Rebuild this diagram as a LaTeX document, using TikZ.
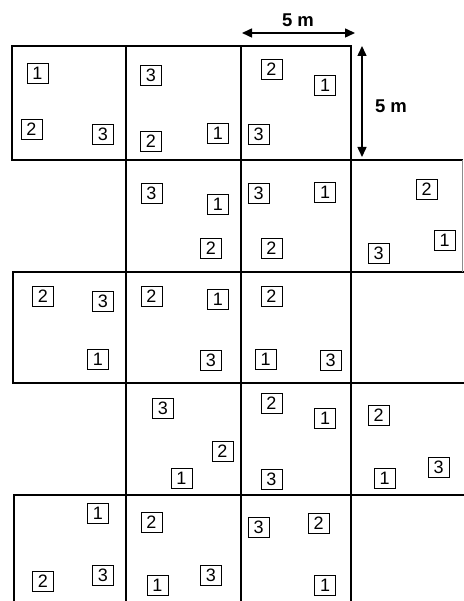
\documentclass[tikz,border=0pt]{standalone}
\usepackage{fontspec}
\setmainfont{Liberation Sans}
\usetikzlibrary{arrows.meta}
\begin{document}
\begin{tikzpicture}[x=1pt,y=-1pt,
  gridline/.style={line width=2pt, line cap=rect},
  thinedge/.style={line width=0.8pt, black!45},
  num/.style={draw, line width=0.9pt, minimum width=21pt, minimum height=20pt, inner sep=0pt, font=\fontsize{18}{18}\selectfont},
  dimarrow/.style={line width=1.5pt, {Triangle[length=10pt,width=9pt]}-{Triangle[length=10pt,width=9pt]}},
  dimlabel/.style={font=\bfseries\fontsize{18.5}{18.5}\selectfont, inner sep=0pt}]
\useasboundingbox (0,0) rectangle (463,601);
% grid
\draw[gridline] (12,46) -- (351,46);
\draw[gridline] (12,160) -- (462,160);
\draw[gridline] (13,272) -- (463,272);
\draw[gridline] (13,383) -- (463,383);
\draw[gridline] (14,495) -- (463,495);
\draw[gridline] (12,46) -- (12,160);
\draw[gridline] (13,272) -- (13,383);
\draw[gridline] (14,495) -- (14,601);
\draw[gridline] (126,46) -- (126,601);
\draw[gridline] (241,46) -- (241,601);
\draw[gridline] (351,46) -- (351,601);
\draw[thinedge] (462,160) -- (462,272);
% dimensions
\coordinate (hA) at (242,33);
\coordinate (hB) at (355,33);
\draw[dimarrow] (hA) -- (hB);
\node[dimlabel] (hL) at (298,20) {5 m};
\coordinate (vA) at (362,46);
\coordinate (vB) at (362,157);
\draw[dimarrow] (vA) -- (vB);
\node[dimlabel] (vL) at (391,106) {5 m};
% row 1
\node[num] (a1) at (37.5,73) {1};
\node[num] (a2) at (31.5,129.5) {2};
\node[num] (a3) at (103,134) {3};
\node[num] (a4) at (151,75) {3};
\node[num] (a5) at (151,141.5) {2};
\node[num] (a6) at (218,133) {1};
\node[num] (a7) at (271.5,69) {2};
\node[num] (a8) at (325,85) {1};
\node[num] (a9) at (258.5,134.5) {3};
% row 2
\node[num] (b1) at (151.5,193) {3};
\node[num] (b2) at (218,204) {1};
\node[num] (b3) at (211,248.5) {2};
\node[num] (b4) at (258.5,193.5) {3};
\node[num] (b5) at (325,192.5) {1};
\node[num] (b6) at (271.5,248.5) {2};
\node[num] (b7) at (426.5,189) {2};
\node[num] (b8) at (444.5,240) {1};
\node[num] (b9) at (378.5,253) {3};
% row 3
\node[num] (c1) at (43,296.5) {2};
\node[num] (c2) at (103,301) {3};
\node[num] (c3) at (98,359) {1};
\node[num] (c4) at (151.5,296.5) {2};
\node[num] (c5) at (218,299.5) {1};
\node[num] (c6) at (211,360.5) {3};
\node[num] (c7) at (271.5,296.5) {2};
\node[num] (c8) at (265.5,359.5) {1};
\node[num] (c9) at (330.5,360.5) {3};
% row 4
\node[num] (d1) at (163,408) {3};
\node[num] (d2) at (222.5,451.5) {2};
\node[num] (d3) at (181.5,478) {1};
\node[num] (d4) at (271.5,403.5) {2};
\node[num] (d5) at (325,418.5) {1};
\node[num] (d6) at (271.5,479) {3};
\node[num] (d7) at (378.5,415.5) {2};
\node[num] (d8) at (384.5,478) {1};
\node[num] (d9) at (438.5,467.5) {3};
% row 5
\node[num] (e1) at (98,513.5) {1};
\node[num] (e2) at (43,581.5) {2};
\node[num] (e3) at (103,575.5) {3};
\node[num] (e4) at (151.5,522.5) {2};
\node[num] (e5) at (157.5,585.5) {1};
\node[num] (e6) at (211,575) {3};
\node[num] (e7) at (258.5,527) {3};
\node[num] (e8) at (318.5,523) {2};
\node[num] (e9) at (325,585.5) {1};
\end{tikzpicture}
\end{document}
